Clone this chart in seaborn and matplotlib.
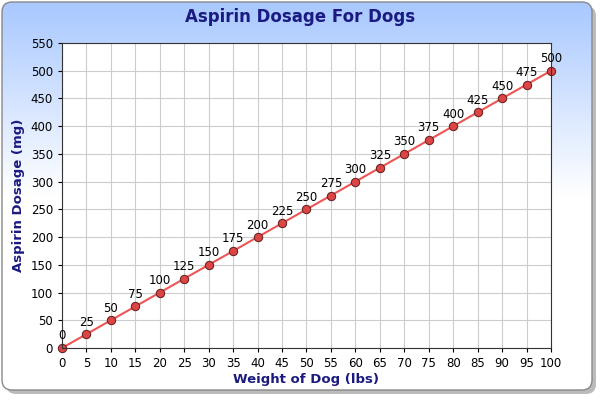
import numpy as np
import matplotlib
matplotlib.use("Agg")
import matplotlib.pyplot as plt
from matplotlib.patches import FancyBboxPatch
import seaborn as sns
import pandas as pd

weights = [0, 5, 10, 15, 20, 25, 30, 35, 40, 45, 50, 55, 60, 65, 70, 75, 80, 85, 90, 95, 100]
dosages = [0, 25, 50, 75, 100, 125, 150, 175, 200, 225, 250, 275, 300, 325, 350, 375, 400, 425, 450, 475, 500]
df = pd.DataFrame({"w": weights, "d": dosages})

fig = plt.figure(figsize=(6, 4), dpi=100)
fig.patch.set_facecolor("white")
bg = fig.add_axes([0, 0, 1, 1], zorder=-1)
bg.set_xlim(0, 600); bg.set_ylim(400, 0); bg.axis("off")
# shadow
bg.add_patch(FancyBboxPatch((6, 6), 590, 388, boxstyle="round,pad=0,rounding_size=10",
                            fc="#bbbbbb", ec="none", zorder=1))
grad = np.linspace(0, 1, 256).reshape(-1, 1)
cmap = matplotlib.colors.LinearSegmentedColormap.from_list("g", ["#a8c8ff", "#ffffff", "#ffffff"])
im = bg.imshow(grad, extent=[2, 592, 390, 2], cmap=cmap, aspect="auto", zorder=2)
box = FancyBboxPatch((2, 2), 590, 388, boxstyle="round,pad=0,rounding_size=10",
                     fc="none", ec="#888888", lw=1, zorder=3)
bg.add_patch(box)
im.set_clip_path(box)

ax = fig.add_axes([62/600, 1-348/400, (551-62)/600, (348-43)/400])
ax.set_facecolor("white")
sns.lineplot(data=df, x="w", y="d", ax=ax, color="#ee5555", lw=1.5, marker="o",
             markersize=6, markerfacecolor="#dd4444", markeredgecolor="#662222", clip_on=False)
for w, d in zip(weights, dosages):
    ax.annotate(str(d), (w, d), xytext=(0, 4), textcoords="offset points",
                ha="center", va="bottom", fontsize=8.5, color="black")
ax.set_xlim(0, 100); ax.set_ylim(0, 550)
ax.set_xticks(range(0, 101, 5)); ax.set_yticks(range(0, 551, 50))
ax.grid(True, color="#cccccc", lw=0.8)
ax.tick_params(labelsize=8.5, length=3)
for s in ax.spines.values():
    s.set_color("#333333")
ax.set_xlabel("Weight of Dog (lbs)", color="#1a1a80", fontweight="bold", fontsize=9.5, labelpad=2)
ax.set_ylabel("Aspirin Dosage (mg)", color="#1a1a80", fontweight="bold", fontsize=9.5)
fig.text(0.5, 1-17/400, "Aspirin Dosage For Dogs", ha="center", va="center",
         color="#1a1a80", fontweight="bold", fontsize=12)
fig.savefig("out.png", dpi=100)
